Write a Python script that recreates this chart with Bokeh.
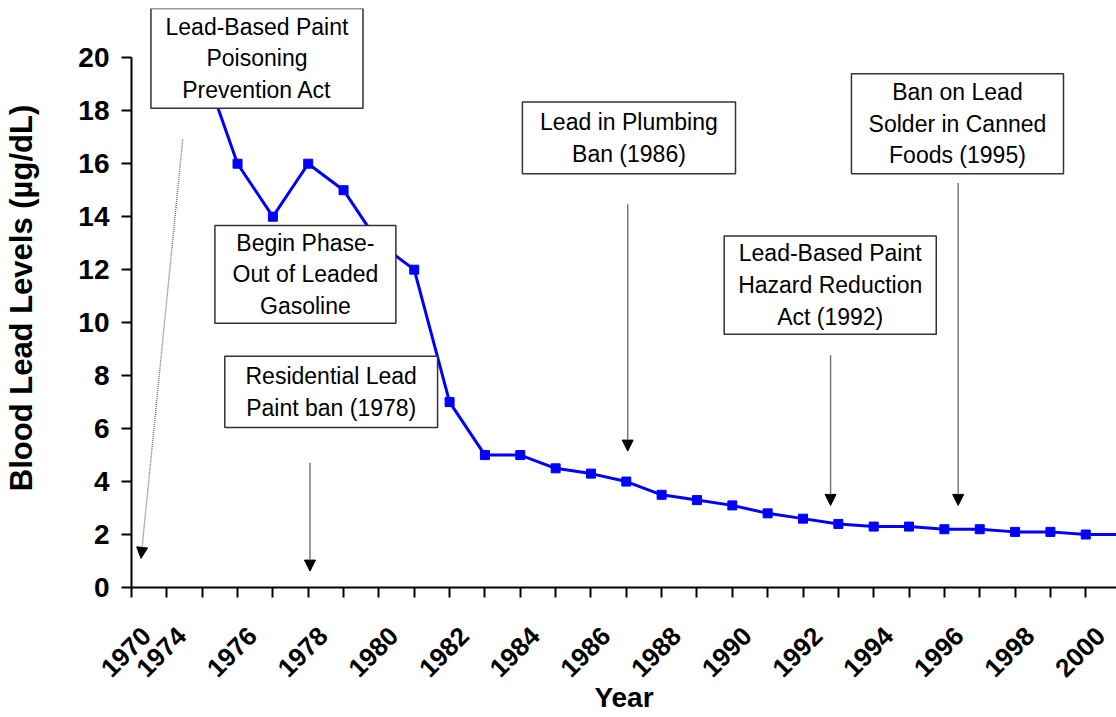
import math
from bokeh.plotting import figure
from bokeh.models import (ColumnDataSource, FixedTicker, Arrow, NormalHead, Range1d,
                          LinearAxis)
from bokeh.core.properties import value
from bokeh.embed import file_html
from bokeh.resources import INLINE

# ---- data ----
axis_years = [1970, 1974] + list(range(1975, 2002))
shown_labels = ["1970", "1974", "1976", "1978", "1980", "1982", "1984", "1986",
                "1988", "1990", "1992", "1994", "1996", "1998", "2000"]
series_years = list(range(1975, 2002))
blood_lead = [19.8, 16.0, 14.0, 16.0, 15.0, 13.0, 12.0, 7.0, 5.0, 5.0, 4.5, 4.3,
              4.0, 3.5, 3.3, 3.1, 2.8, 2.6, 2.4, 2.3, 2.3, 2.2, 2.2, 2.1, 2.1, 2.0, 2.0]
y_ticks = [0, 2, 4, 6, 8, 10, 12, 14, 16, 18, 20]

# annotation boxes: text, box extents in data units (x = axis position, y = value)
boxes = [
    ("Lead-Based Paint\nPoisoning\nPrevention Act", 0.55, 6.55, 18.09, 21.86),
    ("Begin Phase-\nOut of Leaded\nGasoline", 2.36, 7.48, 9.98, 13.67),
    ("Residential Lead\nPaint ban (1978)", 2.64, 8.66, 6.04, 8.73),
    ("Lead in Plumbing\nBan (1986)", 11.06, 17.09, 15.62, 18.33),
    ("Lead-Based Paint\nHazard Reduction\nAct (1992)", 16.77, 22.77, 9.56, 13.27),
    ("Ban on Lead\nSolder in Canned\nFoods (1995)", 20.37, 26.37, 15.62, 19.40),
]
# arrows: x_start, y_start, x_end, y_end, dash
arrows = [
    (1.45, 16.92, 0.27, 1.10, "1 1"),
    (5.05, 4.71, 5.05, 0.62, "solid"),
    (14.04, 14.47, 14.04, 5.15, "solid"),
    (19.78, 8.77, 19.78, 3.10, "solid"),
    (23.39, 15.27, 23.39, 3.10, "solid"),
]

FONT = "Liberation Sans"
X_END = 27.87
LBL_SHIFT = 0.42

pos = {y: i for i, y in enumerate(axis_years)}
src = ColumnDataSource(dict(x=[pos[y] for y in series_years], y=blood_lead))

p = figure(width=1116, height=717, output_backend="svg", toolbar_location=None,
           x_range=Range1d(0, X_END), y_range=Range1d(0, 21.86),
           min_border_left=131, min_border_right=0, min_border_top=8,
           min_border_bottom=130)
p.outline_line_color = None
p.xgrid.visible = False
p.ygrid.visible = False
p.background_fill_color = "white"
p.extra_x_ranges = {"lbl": Range1d(-LBL_SHIFT, X_END - LBL_SHIFT)}

p.line("x", "y", source=src, line_color="#0000FF", line_width=3)
p.scatter("x", "y", source=src, marker="square", size=9, color="#0000FF")

# boxes
for txt, x0, x1, y0, y1 in boxes:
    p.quad(left=[x0], right=[x1], bottom=[y0], top=[y1], fill_color="white",
           line_color="#333333", line_width=1.5)
    p.text(x=[(x0 + x1) / 2], y=[(y0 + y1) / 2], text=[txt], text_align="center",
           text_baseline="middle", text_font=value(FONT), text_font_size="23px",
           text_color="black", text_line_height=1.22)

for xs, ys, xe, ye, dash in arrows:
    p.add_layout(Arrow(x_start=xs, y_start=ys, x_end=xe, y_end=ye,
                       line_color="#707070", line_width=1.4, line_dash=dash,
                       end=NormalHead(size=11, fill_color="black", line_color="black")))

# y axis
ya = p.yaxis[0]
ya.ticker = FixedTicker(ticks=y_ticks)
ya.bounds = (0, 20)
ya.axis_label = "Blood Lead Levels (µg/dL)"
ya.axis_label_text_font = FONT
ya.axis_label_text_font_style = "bold"
ya.axis_label_text_font_size = "31px"
ya.axis_label_text_color = "black"
ya.axis_label_text_line_height = 1.0
ya.axis_label_standoff = 36
ya.major_label_text_font = FONT
ya.major_label_text_font_style = "bold"
ya.major_label_text_font_size = "28px"
ya.major_label_text_color = "black"
ya.major_label_standoff = 12
ya.major_tick_out = 10
ya.major_tick_in = 0
ya.minor_tick_out = 0
ya.minor_tick_in = 0
ya.axis_line_width = 2
ya.axis_line_color = "black"
ya.major_tick_line_width = 2
ya.major_tick_line_color = "black"

# x axis: tick marks only
xa = p.xaxis[0]
xa.ticker = FixedTicker(ticks=list(range(len(axis_years))))
xa.major_label_text_font_size = "0px"
xa.major_label_standoff = 0
xa.major_tick_out = 10
xa.major_tick_in = 0
xa.minor_tick_out = 0
xa.minor_tick_in = 0
xa.axis_line_width = 2
xa.axis_line_color = "black"
xa.major_tick_line_width = 2
xa.major_tick_line_color = "black"
xa.major_label_overrides = {i: "" for i in range(len(axis_years))}

# x axis: year labels, centred on the tick marks
xl = LinearAxis(x_range_name="lbl")
xl.ticker = FixedTicker(ticks=list(range(len(axis_years))))
xl.major_label_overrides = {i: (str(y) if str(y) in shown_labels else "")
                            for i, y in enumerate(axis_years)}
xl.major_label_orientation = math.pi / 4
xl.major_label_text_font = FONT
xl.major_label_text_font_style = "bold"
xl.major_label_text_font_size = "26px"
xl.major_label_text_color = "black"
xl.major_label_standoff = 34
xl.axis_line_color = None
xl.major_tick_line_color = None
xl.minor_tick_line_color = None
xl.major_tick_out = 0
xl.major_tick_in = 0
xl.axis_label = "Year"
xl.axis_label_text_font = FONT
xl.axis_label_text_font_style = "bold"
xl.axis_label_text_font_size = "28px"
xl.axis_label_text_color = "black"
xl.axis_label_text_line_height = 0.8
xl.axis_label_standoff = -6
p.add_layout(xl, "below")

open("out.html", "w").write(file_html(p, INLINE))
